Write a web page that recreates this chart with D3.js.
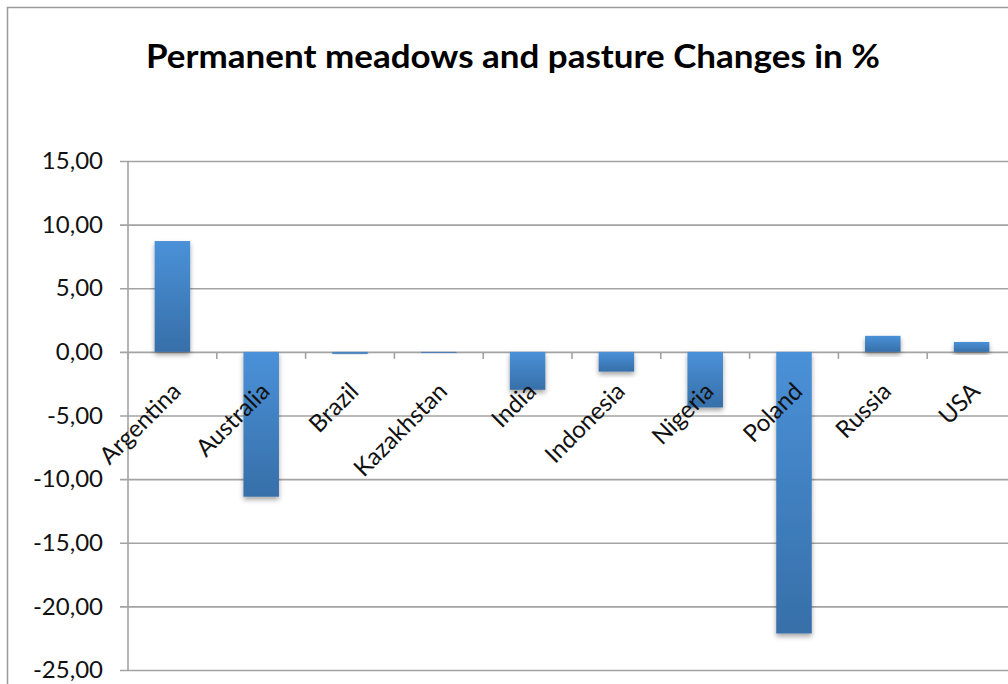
<!DOCTYPE html>
<html>
<head>
<meta charset="utf-8">
<script src="https://cdn.jsdelivr.net/npm/d3@7"></script>
<style>
  html, body { margin: 0; padding: 0; background: #fff; }
  svg { display: block; }
</style>
</head>
<body>
<svg id="chart" width="1008" height="684"></svg>
<script>
// Change in permanent meadows and pasture area, per country (%)
const countries = ["Argentina", "Australia", "Brazil", "Kazakhstan", "India",
                   "Indonesia", "Nigeria", "Poland", "Russia", "USA"];
const changes = [8.71, -11.38, -0.15, -0.05, -2.98, -1.55, -4.37, -22.13, 1.26, 0.78];
const yTicks = [-25, -20, -15, -10, -5, 0, 5, 10, 15];

const svg = d3.select("#chart");
const W = 1008, H = 684;
const FONT = "Lato, 'Open Sans', sans-serif";

// chart frame (runs off the right and bottom edges)
svg.append("rect")
  .attr("x", 7.5).attr("y", 7.5)
  .attr("width", W + 20).attr("height", H + 20)
  .attr("fill", "#fff").attr("stroke", "#9a9a9a").attr("stroke-width", 1.5);

const plot = { left: 128, right: 1016, top: 161, bottom: 670 };

const x = d3.scaleBand()
  .domain(countries)
  .range([plot.left, plot.right])
  .paddingInner(0.6).paddingOuter(0.3);
const band = d3.scaleBand().domain(countries).range([plot.left, plot.right]);

const y = d3.scaleLinear().domain([-25, 15]).range([plot.bottom, plot.top]);

const defs = svg.append("defs");
const grad = defs.append("linearGradient")
  .attr("id", "barFill").attr("x1", 0).attr("y1", 0).attr("x2", 0).attr("y2", 1);
grad.append("stop").attr("offset", "0%").attr("stop-color", "#4a91d8");
grad.append("stop").attr("offset", "100%").attr("stop-color", "#376fa9");

const shadow = defs.append("filter").attr("id", "barShadow")
  .attr("x", "-30%").attr("y", "-30%").attr("width", "160%").attr("height", "160%");
shadow.append("feDropShadow")
  .attr("dx", 0).attr("dy", 3).attr("stdDeviation", 2.5)
  .attr("flood-color", "#000").attr("flood-opacity", 0.35);

// decimal comma, plain hyphen for negatives
const fmt = d => d3.format(".2f")(d).replace(".", ",").replace("\u2212", "-");

// horizontal gridlines + left tick labels
const yAxis = d3.axisLeft(y)
  .tickValues(yTicks)
  .tickSize(-(W - plot.left + 10))
  .tickPadding(17)
  .tickFormat(fmt);

const gy = svg.append("g")
  .attr("transform", `translate(${plot.left},0)`)
  .call(yAxis);
gy.select(".domain").remove();
gy.selectAll(".tick line")
  .attr("x1", -8)
  .attr("stroke", "#a3a3a3").attr("stroke-width", 1.6);
gy.selectAll(".tick text")
  .attr("x", -25)
  .attr("font-family", FONT)
  .attr("font-size", 24)
  .attr("fill", "#111");

// vertical axis line
svg.append("line")
  .attr("x1", plot.left).attr("x2", plot.left)
  .attr("y1", plot.top).attr("y2", plot.bottom)
  .attr("stroke", "#a3a3a3").attr("stroke-width", 1.6);

// category ticks along the zero line
const edges = countries.map(c => band(c))
  .concat([band(countries[countries.length - 1]) + band.bandwidth()]);
svg.append("g").attr("transform", `translate(0,${y(0)})`)
  .selectAll("line").data(edges).enter().append("line")
  .attr("x1", d => d).attr("x2", d => d)
  .attr("y1", 0).attr("y2", 7)
  .attr("stroke", "#a3a3a3").attr("stroke-width", 1.6);

// bars
svg.append("g").selectAll("rect").data(countries).enter().append("rect")
  .attr("x", (c) => x(c))
  .attr("width", x.bandwidth())
  .attr("y", (c, i) => y(Math.max(0, changes[i])))
  .attr("height", (c, i) => Math.max(1, Math.abs(y(changes[i]) - y(0))))
  .attr("fill", "url(#barFill)")
  .attr("filter", "url(#barShadow)");

// rotated category labels
svg.append("g").selectAll("text").data(countries).enter().append("text")
  .attr("transform", c => `translate(${band(c) + band.bandwidth() / 2 + 10},${y(0) + 41}) rotate(-45)`)
  .attr("text-anchor", "end")
  .attr("font-family", FONT)
  .attr("font-size", 24)
  .attr("fill", "#111")
  .text(c => c);

// title
svg.append("text")
  .attr("x", 513).attr("y", 68)
  .attr("text-anchor", "middle")
  .attr("font-family", FONT)
  .attr("font-weight", "bold")
  .attr("font-size", 33)
  .attr("textLength", 734)
  .attr("lengthAdjust", "spacingAndGlyphs")
  .attr("fill", "#000")
  .text("Permanent meadows and pasture Changes in %");
</script>
</body>
</html>
